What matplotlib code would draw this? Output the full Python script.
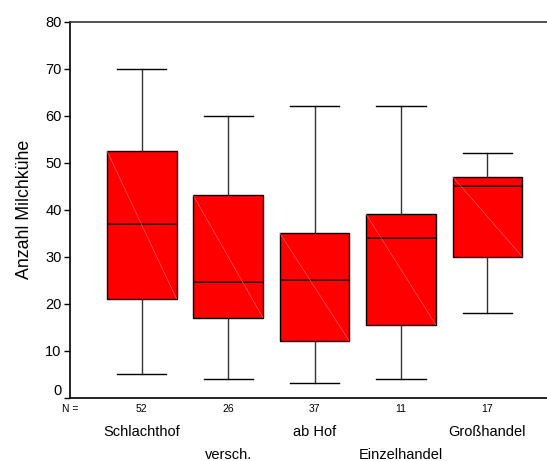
import matplotlib
matplotlib.use('Agg')
import matplotlib.pyplot as plt
import matplotlib.transforms as mtransforms

plt.rcParams['font.family'] = ['Liberation Sans', 'DejaVu Sans']

# data
categories = ['Schlachthof', 'versch.', 'ab Hof', 'Einzelhandel', 'Großhandel']
n_counts = [52, 26, 37, 11, 17]
whisker_low = [5, 4, 3, 4, 18]
q1 = [21, 17, 12, 15.5, 30]
median = [37, 24.5, 25, 34, 45]
q3 = [52.5, 43, 35, 39, 47]
whisker_high = [70, 60, 62, 62, 52]

stats = []
for i in range(len(categories)):
    stats.append({'whislo': whisker_low[i], 'q1': q1[i], 'med': median[i],
                  'q3': q3[i], 'whishi': whisker_high[i], 'label': categories[i]})

fig = plt.figure(figsize=(5.47, 4.61), dpi=100)
ax = fig.add_axes([0.128, 0.1377, 0.872, 0.8153])

positions = list(range(1, len(categories) + 1))
ax.bxp(stats, positions=positions, widths=0.805, showfliers=False,
       patch_artist=True,
       boxprops=dict(facecolor='#ff0000', edgecolor='black', linewidth=1),
       medianprops=dict(color='#3a0000', linewidth=1.2),
       whiskerprops=dict(color='#333333', linewidth=1),
       capprops=dict(color='black', linewidth=1),
       capwidths=0.57)

# thin light diagonal inside every box (SPSS fill artifact)
for p, lo, hi in zip(positions, q1, q3):
    ax.plot([p - 0.4025, p + 0.4025], [hi, lo], color='#ff7070', lw=0.4, zorder=3)

ax.set_xlim(0.17, 5.69)
ax.set_ylim(0, 80)
ax.set_yticks(range(0, 81, 10))
ax.set_xticks([])
ax.tick_params(axis='y', labelsize=10.5, length=4, width=1, direction='out', pad=2)
ax.spines['right'].set_visible(False)
for s in ['left', 'top', 'bottom']:
    ax.spines[s].set_linewidth(1.2)
    ax.spines[s].set_color('black')
ax.spines['top'].set_color('#333333')

# the "0" sits a bit above its tick in the original
ax.get_yticklabels()[0].set_verticalalignment('bottom')

ax.set_ylabel('Anzahl Milchkühe', fontsize=12.8, labelpad=9)

trans = mtransforms.blended_transform_factory(ax.transData, fig.transFigure)
fig.text(0.128, 1 - 409 / 461, 'N =', fontsize=7.5, ha='center', va='center')
for p, n in zip(positions, n_counts):
    ax.text(p, 1 - 409 / 461, str(n), fontsize=7.5, ha='center', va='center', transform=trans)
for i, (p, name) in enumerate(zip(positions, categories)):
    yy = 1 - (432 if i % 2 == 0 else 455) / 461
    ax.text(p, yy, name, fontsize=10.5, ha='center', va='center', transform=trans)

fig.savefig('out.png', dpi=100)
